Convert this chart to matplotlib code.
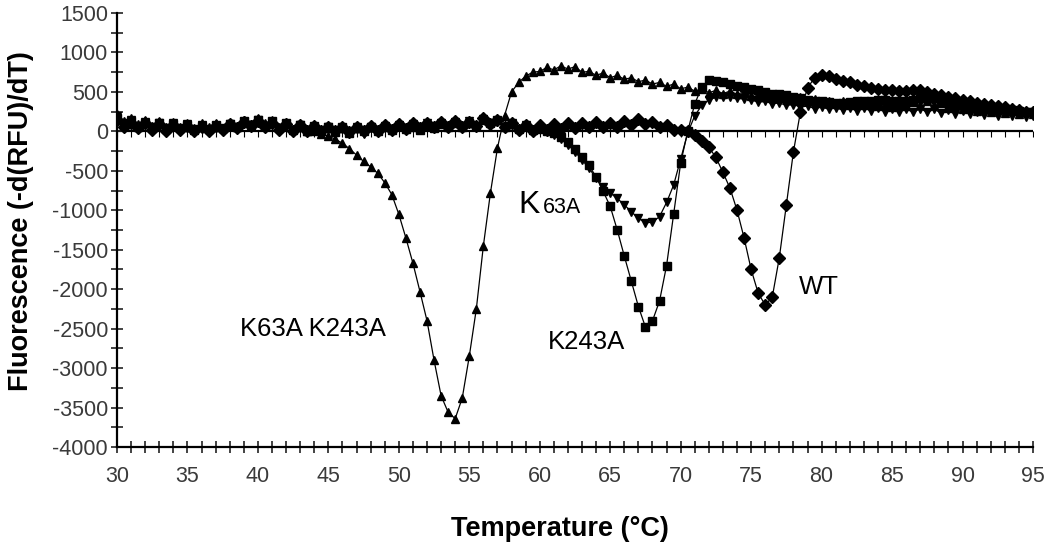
import numpy as np
import matplotlib
matplotlib.use("Agg")
import matplotlib.pyplot as plt
from matplotlib.ticker import MultipleLocator

plt.rcParams['font.family'] = ['Liberation Sans', 'DejaVu Sans']
plt.rcParams['axes.unicode_minus'] = False

# temperature grid of the melt curve (0.5 degC steps)
temps = np.arange(30.0, 95.01, 0.5)

# -d(RFU)/dT, 10 values per row = 5 degC
dm = [220, 130, 170, 90, 150, 70, 130, 60, 120, 50,
      110, 40, 100, 50, 110, 40, 110, 60, 150, 90,
      170, 100, 140, 60, 100, 30, 60, 0, 10, -30,
      -60, -100, -150, -220, -300, -380, -450, -530, -650, -800,
      -1050, -1350, -1670, -2030, -2400, -2900, -3350, -3560, -3640, -3380,
      -2850, -2250, -1450, -780, -210, 200, 500, 620, 700, 750,
      760, 810, 780, 830, 790, 820, 750, 760, 710, 740,
      680, 710, 660, 680, 630, 650, 600, 620, 570, 600,
      540, 560, 510, 540, 490, 520, 480, 510, 470, 500,
      450, 480, 430, 460, 420, 450, 400, 430, 380, 410,
      360, 390, 350, 380, 340, 370, 330, 360, 320, 350,
      310, 350, 320, 370, 340, 390, 340, 360, 300, 330,
      280, 310, 260, 290, 240, 280, 230, 260, 220, 250,
      220]

k243 = [170, 80, 130, 60, 110, 40, 100, 30, 90, 40,
        80, 20, 70, 30, 80, 40, 90, 60, 130, 80,
        150, 70, 130, 40, 100, 20, 80, 10, 70, 0,
        60, -10, 50, -20, 40, 0, 50, 10, 60, 20,
        70, 30, 60, 20, 70, 40, 90, 50, 100, 60,
        110, 70, 150, 100, 140, 60, 90, 30, 70, 20,
        30, 10, -20, -70, -130, -220, -320, -430, -580, -760,
        -950, -1250, -1580, -1900, -2220, -2480, -2400, -2150, -1700, -1050,
        -400, 0, 350, 560, 650, 640, 620, 600, 580, 560,
        540, 520, 500, 480, 470, 460, 440, 420, 400, 390,
        380, 370, 360, 360, 370, 380, 380, 390, 400, 400,
        390, 380, 390, 400, 420, 430, 420, 400, 380, 360,
        340, 330, 320, 310, 300, 290, 280, 270, 260, 250,
        240]

k63 = [190, 100, 140, 70, 120, 50, 110, 40, 100, 30,
       90, 30, 80, 20, 70, 30, 90, 40, 120, 60,
       140, 60, 110, 30, 90, 20, 80, 0, 60, 10,
       50, -20, 40, -10, 50, -30, 60, 0, 70, 10,
       80, 20, 90, 30, 100, 40, 110, 50, 120, 40,
       130, 60, 160, 80, 120, 40, 100, 20, 80, 10,
       40, 0, -40, -100, -170, -260, -360, -470, -590, -700,
       -780, -850, -930, -1020, -1100, -1160, -1150, -1080, -900, -680,
       -350, -20, 200, 330, 400, 430, 440, 430, 420, 410,
       400, 370, 380, 350, 360, 330, 340, 310, 320, 290,
       310, 280, 300, 270, 300, 260, 300, 260, 300, 250,
       290, 250, 290, 240, 290, 240, 280, 230, 270, 220,
       260, 220, 250, 210, 240, 200, 230, 190, 220, 180,
       200]

wt = [150, 60, 110, 40, 100, 20, 90, 10, 80, 20,
      70, 10, 60, 0, 70, 20, 90, 40, 120, 70,
      130, 50, 110, 20, 90, 10, 80, 0, 70, 10,
      60, 0, 50, -10, 60, 0, 70, 10, 80, 20,
      90, 30, 100, 40, 110, 50, 120, 60, 130, 60,
      120, 70, 170, 90, 140, 50, 100, 20, 80, 10,
      80, 20, 90, 30, 100, 40, 110, 50, 120, 50,
      110, 60, 130, 80, 160, 90, 120, 50, 80, 20,
      20, 0, -50, -120, -200, -330, -520, -720, -1000, -1350,
      -1750, -2050, -2200, -2100, -1600, -930, -260, 250, 550, 680,
      720, 700, 670, 640, 620, 590, 570, 550, 540, 530,
      520, 510, 510, 520, 520, 500, 480, 460, 440, 420,
      400, 380, 360, 350, 340, 320, 310, 290, 270, 250,
      240]

fig = plt.figure(figsize=(10.5, 5.52), dpi=100)
ax = fig.add_axes([0.1114, 0.1902, 0.8724, 0.7862])

# zero line with small ticks hanging below, like the Excel category axis
zero_x = np.arange(30, 96, 1)
ax.plot(zero_x, np.zeros(len(zero_x)), color='black', lw=1.6,
        marker=3, markersize=4, markeredgewidth=0.8, zorder=1)

ax.plot(temps, dm, color='black', lw=0.9, marker='^', markersize=6, zorder=3)
ax.plot(temps, k243, color='black', lw=0.9, marker='s', markersize=5.5, zorder=3)
ax.plot(temps, k63, color='black', lw=0.9, marker='v', markersize=6, zorder=3)
ax.plot(temps, wt, color='black', lw=0.9, marker='D', markersize=6.5, zorder=3)

ax.set_xlim(30, 95)
ax.set_ylim(-4000, 1500)
ax.xaxis.set_major_locator(MultipleLocator(5))
ax.xaxis.set_minor_locator(MultipleLocator(1))
ax.yaxis.set_major_locator(MultipleLocator(500))
ax.yaxis.set_minor_locator(MultipleLocator(250))

for s in ['top', 'right']:
    ax.spines[s].set_visible(False)
for s in ['left', 'bottom']:
    ax.spines[s].set_linewidth(1.6)
    ax.spines[s].set_clip_on(False)

ax.tick_params(axis='both', which='both', direction='inout', width=1.2,
               color='#222222', labelcolor='#3a3a3a', labelsize=15.5)
ax.tick_params(axis='both', which='major', length=9)
ax.tick_params(axis='both', which='minor', length=8)
ax.tick_params(axis='y', which='major', pad=2)
ax.tick_params(axis='x', which='major', pad=9)

ax.set_xlabel('Temperature (°C)', fontsize=19.5, fontweight='bold')
ax.xaxis.set_label_coords(0.484, -0.16)
fig.text(21 / 1050, 1 - 221 / 552, 'Fluorescence (-d(RFU)/dT)', fontsize=19.5,
         fontweight='bold', rotation=90, ha='center', va='center')

ax.text(38.7, -2510, 'K63A K243A', fontsize=18.5, ha='left', va='center')
ax.text(60.6, -2665, 'K243A', fontsize=18.5, ha='left', va='center')
ax.text(78.4, -1968, 'WT', fontsize=18.5, ha='left', va='center')
ax.text(58.5, -1030, 'K', fontsize=23, ha='left', va='baseline')
ax.text(60.2, -1030, '63A', fontsize=15.5, ha='left', va='baseline')

fig.savefig('out.png', dpi=100)
